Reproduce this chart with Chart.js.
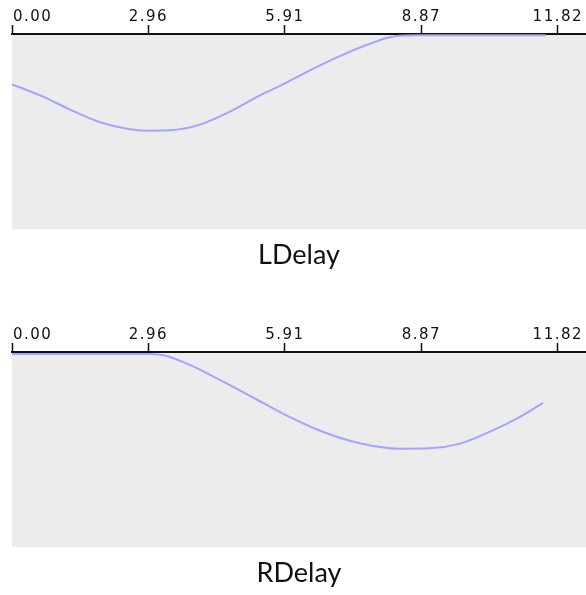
<!DOCTYPE html>
<html>
<head>
<meta charset="utf-8">
<script src="https://cdn.jsdelivr.net/npm/chart.js@4/dist/chart.umd.min.js"></script>
<style>
  html, body { margin: 0; padding: 0; background: #fff; overflow: hidden; }
  .panel { position: absolute; left: 0; width: 586px; height: 277px; }
  #p1 { top: 0; }
  #p2 { top: 318px; }
</style>
</head>
<body>
<div class="panel" id="p1"><canvas id="lChart"></canvas></div>
<div class="panel" id="p2"><canvas id="rChart"></canvas></div>
<script>
// tick values and labels of the time axis (top)
const tickValues = [0, 2.955, 5.91, 8.865, 11.82];
const tickLabels = ['0.00', '2.96', '5.91', '8.87', '11.82'];
const axisMax = 12.43;

// LDelay curve (time, normalised delay)
const lTime = [0, 0.61, 1.26, 1.91, 2.55, 2.90, 3.42, 4.07, 4.72, 5.37, 5.91, 6.45, 7.10, 7.75, 8.29, 8.83, 11.56];
const lValues = [0.742, 0.686, 0.613, 0.548, 0.512, 0.505, 0.507, 0.536, 0.603, 0.686, 0.747, 0.814, 0.887, 0.950, 0.988, 0.993, 0.993];

// RDelay curve
const rTime = [0, 2.99, 3.31, 3.85, 4.50, 5.15, 5.91, 6.67, 7.53, 8.40, 9.05, 9.70, 10.35, 11.00, 11.50];
const rValues = [0.990, 0.990, 0.982, 0.934, 0.857, 0.776, 0.679, 0.597, 0.533, 0.505, 0.507, 0.531, 0.592, 0.668, 0.740];

// grey plot background + tick labels drawn by hand so 0.00 sits left-aligned
const panelPlugin = {
  id: 'panel',
  beforeDraw(chart) {
    const a = chart.chartArea;
    const ctx = chart.ctx;
    ctx.save();
    ctx.fillStyle = '#ececec';
    ctx.fillRect(a.left, a.top, a.right - a.left, a.bottom - a.top);
    ctx.restore();
  },
  afterDraw(chart) {
    const xs = chart.scales.x;
    const ctx = chart.ctx;
    ctx.save();
    ctx.fillStyle = '#111';
    ctx.font = '15px "DejaVu Sans"';
    ctx.letterSpacing = '1.5px';
    ctx.textBaseline = 'alphabetic';
    tickValues.forEach((v, i) => {
      const px = xs.getPixelForValue(v);
      ctx.textAlign = i === 0 ? 'left' : 'center';
      ctx.fillText(tickLabels[i], i === 0 ? px + 1 : px, chart.chartArea.top - 13);
    });
    ctx.restore();
  }
};

function makeChart(id, title, xs, ys) {
  const ctx = document.getElementById(id).getContext('2d');
  return new Chart(ctx, {
    type: 'line',
    data: {
      datasets: [{
        data: xs.map((x, i) => ({ x: x, y: ys[i] })),
        borderColor: '#a4a4ff',
        borderWidth: 2,
        pointRadius: 0,
        cubicInterpolationMode: 'monotone',
        fill: false,
      }],
    },
    options: {
      responsive: true,
      maintainAspectRatio: false,
      animation: false,
      layout: { padding: { top: 25, left: 12, right: 0, bottom: 0 } },
      plugins: {
        legend: { display: false },
        tooltip: { enabled: false },
        title: {
          display: true,
          position: 'bottom',
          text: title,
          color: '#111',
          font: { family: 'Lato', size: 27, weight: 'normal', lineHeight: 1.1 },
          padding: { top: 11, bottom: 7 },
        },
      },
      scales: {
        x: {
          type: 'linear',
          position: 'top',
          min: 0,
          max: axisMax,
          afterBuildTicks: (axis) => { axis.ticks = tickValues.map(v => ({ value: v })); },
          ticks: { display: false },
          grid: { drawOnChartArea: false, drawTicks: true, tickLength: 9, tickWidth: 1.5, tickColor: '#111' },
          border: { display: true, color: '#111', width: 2 },
        },
        y: {
          display: false,
          min: 0,
          max: 1,
        },
      },
    },
    plugins: [panelPlugin],
  });
}

makeChart('lChart', 'LDelay', lTime, lValues);
makeChart('rChart', 'RDelay', rTime, rValues);
</script>
</body>
</html>
